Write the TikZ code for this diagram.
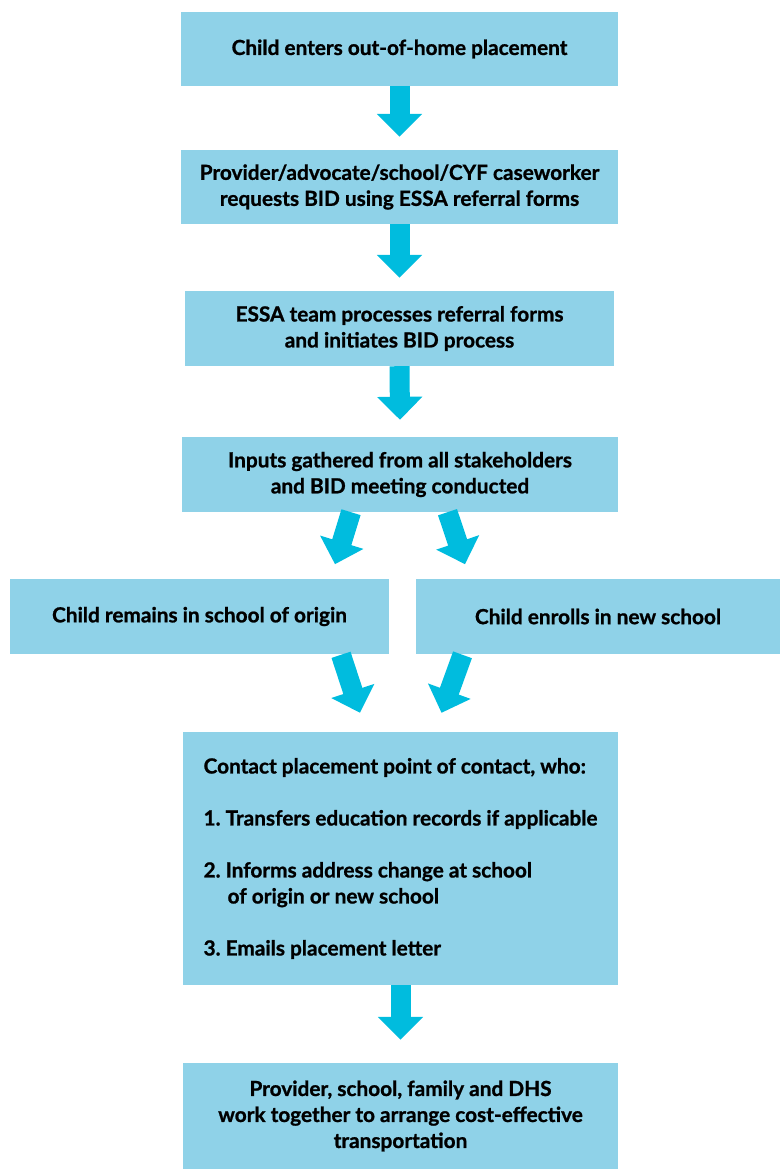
\documentclass[tikz,border=0pt]{standalone}
\usepackage{fontspec}
\setmainfont{Lato}[BoldFeatures={FakeBold=1.0}]
\frenchspacing
\usetikzlibrary{arrows.meta,calc}
\definecolor{boxblue}{HTML}{8FD2E8}
\definecolor{arrowblue}{HTML}{00BCDE}
\tikzset{
  flowbox/.style={fill=boxblue, draw=none, inner sep=0pt, align=center,
    font=\fontsize{20.8}{26}\selectfont\bfseries, text=black},
  bigarrow/.style={draw=arrowblue, line width=20pt, line cap=butt,
    -{Triangle[width=44pt,length=23pt]}},
}
\begin{document}
\begin{tikzpicture}[x=1pt,y=-1pt]
\useasboundingbox (0,0) rectangle (780,1169);
\node[flowbox, minimum width=437pt, minimum height=74pt] (b1) at (399.5,49) {Child enters out-of-home placement};
\node[flowbox, minimum width=437pt, minimum height=74pt] (b2) at (399.5,187) {Provider/advocate/school/CYF caseworker\\requests BID using ESSA referral forms};
\node[flowbox, minimum width=429pt, minimum height=75pt] (b3) at (399.5,328.5) {ESSA team processes referral forms\\and initiates BID process};
\node[flowbox, minimum width=436pt, minimum height=75pt] (b4) at (400,474.5) {Inputs gathered from all stakeholders\\and BID meeting conducted};
\node[flowbox, minimum width=379pt, minimum height=75pt] (b5l) at (199.5,616.5) {Child remains in school of origin};
\node[flowbox, minimum width=364pt, minimum height=75pt] (b5r) at (598,616.5) {Child enrolls in new school};
\node[flowbox, minimum width=435pt, minimum height=253pt, align=left] (b6) at (400.5,858.5) {Contact placement point of contact, who:\\[26pt]
1. Transfers education records if applicable\\[26pt]
2. Informs address change at school\\
\hspace*{24pt}of origin or new school\\[26pt]
3. Emails placement letter};
\node[flowbox, minimum width=435pt, minimum height=106pt] (b7) at (400.5,1116) {Provider, school, family and DHS\\work together to arrange cost-effective\\transportation};

\draw[bigarrow] (b1.south) -- ($(b2.north)+(0,-13)$);
\draw[bigarrow] (b2.south) -- ($(b3.north)+(0,-13)$);
\draw[bigarrow] (b3.south) -- ($(b4.north)+(0,-17)$);
\draw[bigarrow] (b6.south) -- ($(b7.north)+(0,-23)$);

\coordinate (s1) at ($(b4.south)+(-49,0)$);
\coordinate (t1) at ($(b4.south)+(-65,52)$);
\coordinate (s2) at ($(b4.south)+(47.5,0)$);
\coordinate (t2) at ($(b4.south)+(65,52)$);
\draw[bigarrow] (s1) -- (t1);
\draw[bigarrow] (s2) -- (t2);

\coordinate (s3) at ($(b6.north)+(-59.5,-77)$);
\coordinate (t3) at ($(b6.north)+(-40.5,-19)$);
\coordinate (s4) at ($(b6.north)+(62,-77)$);
\coordinate (t4) at ($(b6.north)+(41,-19)$);
\draw[bigarrow] (s3) -- (t3);
\draw[bigarrow] (s4) -- (t4);
\end{tikzpicture}
\end{document}
